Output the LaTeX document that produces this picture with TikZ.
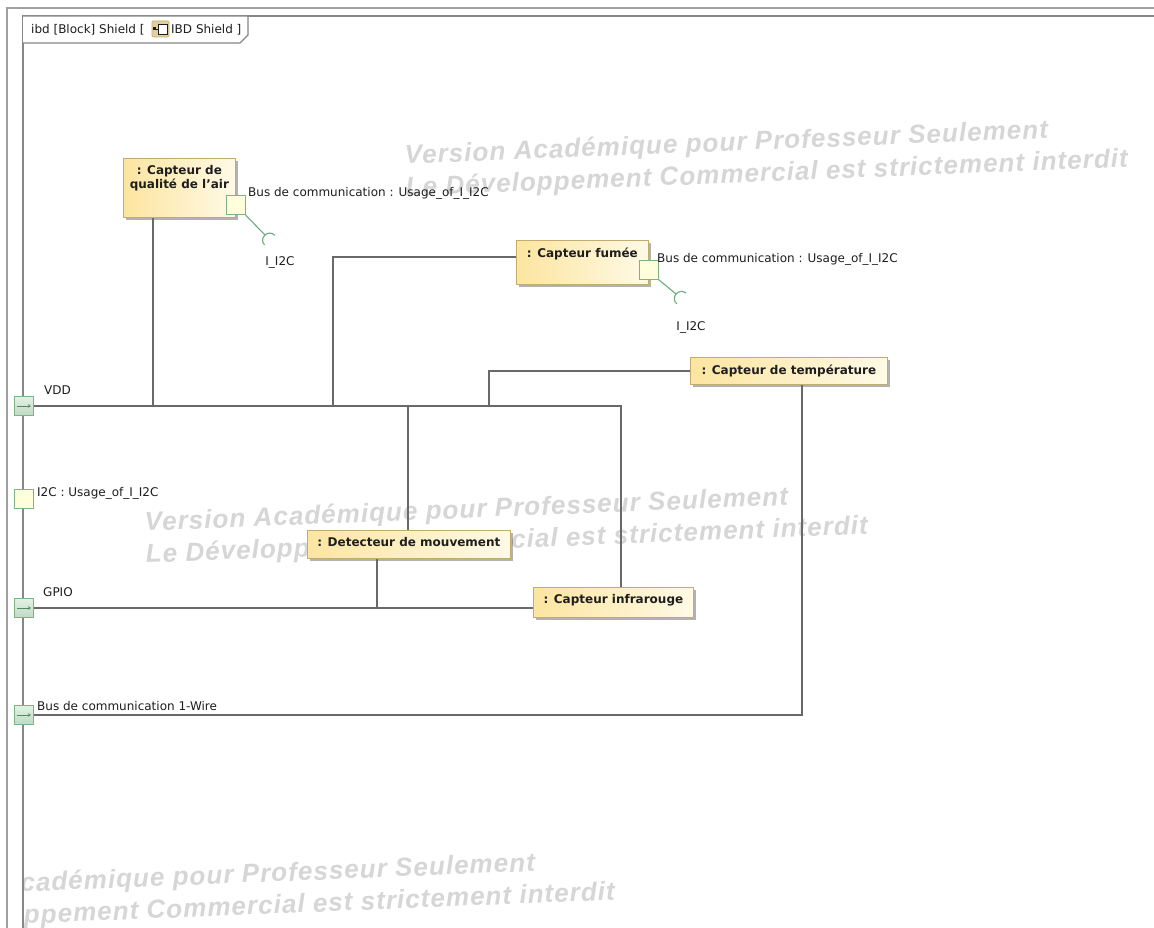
\documentclass[tikz,border=0pt]{standalone}
\usepackage{fontspec}
\setmainfont{DejaVu Sans}
\newfontfamily\wmfont{Liberation Sans}[LetterSpace=4]
\usetikzlibrary{calc,shadows,arrows.meta}

\definecolor{frameA}{RGB}{160,160,160}
\definecolor{frameB}{RGB}{135,135,135}
\definecolor{ink}{RGB}{30,30,30}
\definecolor{blockA}{RGB}{252,229,160}
\definecolor{blockB}{RGB}{255,250,230}
\definecolor{blockEdge}{RGB}{196,172,110}
\definecolor{portEdge}{RGB}{125,178,135}
\definecolor{portTop}{RGB}{228,241,228}
\definecolor{portBot}{RGB}{192,217,196}
\definecolor{portArrow}{RGB}{80,140,95}
\definecolor{ifaceFill}{RGB}{255,255,220}
\definecolor{connGray}{RGB}{105,105,105}
\definecolor{sockGreen}{RGB}{110,170,125}
\definecolor{wmGray}{RGB}{214,214,214}
\definecolor{iconTan}{RGB}{224,208,160}

\begin{document}
\begin{tikzpicture}[x=1pt,y=-1pt,
  lbl/.style={inner sep=0pt, text=ink, font=\fontsize{12}{14}\selectfont},
  wm/.style={anchor=base west, rotate=2.3, inner sep=0pt, text=wmGray,
    font=\wmfont\bfseries\itshape\fontsize{26}{30}\selectfont},
  block/.style={anchor=north west, inner sep=0pt, draw=blockEdge, line width=0.8pt,
    left color=blockA, right color=blockB,
    drop shadow={shadow xshift=3pt, shadow yshift=-3pt, fill=black, opacity=0.3}},
  blabel/.style={anchor=north, yshift=-4pt, text=ink, align=center,
    font=\bfseries\fontsize{12}{14}\selectfont},
  port/.style={minimum size=19pt, inner sep=0pt, draw=portEdge, line width=0.8pt,
    top color=portTop, bottom color=portBot},
  iport/.style={minimum size=19pt, inner sep=0pt, draw=portEdge, line width=0.8pt,
    fill=ifaceFill},
  parrow/.style={draw=portArrow, line width=0.6pt, -{Stealth[length=3pt,width=3.5pt]}},
  conn/.style={draw=connGray, line width=1.2pt},
  iface/.style={draw=sockGreen, line width=1.1pt},
  frameline/.style={draw=frameA, line width=1.2pt}
]
\useasboundingbox (0,0) rectangle (1154,928);
\fill[white] (0,0) rectangle (1154,928);

% watermark text, kept inside the diagram frame
\begin{scope}
  \clip (23,16) rectangle (1154,928);
  \node[wm] (wmA1) at (405,164) {Version Académique pour Professeur Seulement};
  \node[wm] (wmA2) at (406,196) {Le Développement Commercial est strictement interdit};
  \node[wm] (wmB1) at (145,531) {Version Académique pour Professeur Seulement};
  \node[wm] (wmB2) at (146,563) {Le Développement Commercial est strictement interdit};
  \node[wm] (wmC1) at (-108,897) {Version Académique pour Professeur Seulement};
  \node[wm] (wmC2) at (-107,929) {Le Développement Commercial est strictement interdit};
\end{scope}

% outer and inner diagram frame
\draw[frameline] (1154,8) -- (7,8) -- (7,928);
\draw[frameline, draw=frameB] (1154,16) -- (23,16) -- (23,928);
\draw[frameline, draw=frameB, fill=white] (23,16) -- (248,16) -- (248,35) -- (240,43) -- (23,43);

% frame title with the diagram icon
\node[lbl, anchor=west] (title) at (31,29.5) {ibd [Block] Shield [};
\draw[draw=blockEdge, fill=iconTan, line width=0.6pt, rounded corners=1pt] (152,21) rectangle (169,37);
\draw[draw=ink, fill=white, line width=0.8pt] (158,24) rectangle (167,34);
\draw[draw=ink, line width=0.8pt] (154,29) -- (158,29);
\fill[ink] (153,27.5) rectangle (156,30.5);
\node[lbl, anchor=west] (title2) at (171,29.5) {IBD Shield ]};

% parts
\node[block, minimum width=112pt, minimum height=59pt,
  label={[blabel]north:{: Capteur de\\qualité de l'air}}] (air) at (123,158) {};
\node[block, minimum width=132pt, minimum height=44pt,
  label={[blabel]north:{: Capteur fumée}}] (fum) at (516,240) {};
\node[block, minimum width=197pt, minimum height=27pt,
  label={[blabel]north:{: Capteur de température}}] (temp) at (690,357) {};
\node[block, minimum width=203pt, minimum height=28pt,
  label={[blabel]north:{: Detecteur de mouvement}}] (det) at (307,530) {};
\node[block, minimum width=160pt, minimum height=30pt,
  label={[blabel]north:{: Capteur infrarouge}}] (ir) at (533,587) {};

% connectors from the boundary ports
\node[port] (vdd) at (24,406) {};
\node[iport] (i2c) at (24,499) {};
\node[port] (gpio) at (24,608) {};
\node[port] (ow) at (24,715) {};

\coordinate (fumIn) at ($(fum.north west)+(0,17)$);
\coordinate (tempIn) at (temp.west);

\draw[conn] (vdd.east) -| ($(air.south west)+(30,0)$);
\draw[conn] (vdd.east) -| ([xshift=-183pt]fumIn) -- (fumIn);
\draw[conn] (vdd.east) -| ($(det.north west)+(101,0)$);
\draw[conn] (vdd.east) -| ([xshift=-201pt]tempIn) -- (tempIn);
\draw[conn] (vdd.east) -| ($(ir.north west)+(88,0)$);
\draw[conn] (gpio.east) -| ($(det.south west)+(70,0)$);
\draw[conn] (gpio.east) -- (gpio.east -| ir.west);
\draw[conn] (ow.east) -| ($(temp.south west)+(112,0)$);

% redraw boundary ports over the line ends
\node[port] at (vdd) {};
\node[port] at (gpio) {};
\node[port] at (ow) {};
\draw[parrow] ([xshift=-7pt]vdd.center) -- ([xshift=7pt]vdd.center);
\draw[parrow] ([xshift=-7pt]gpio.center) -- ([xshift=7pt]gpio.center);
\draw[parrow] ([xshift=-7pt]ow.center) -- ([xshift=7pt]ow.center);

\node[lbl, anchor=west] (vddL) at (44,390) {VDD};
\node[lbl, anchor=west] (i2cL) at (37,493) {I2C : Usage\_of\_I\_I2C};
\node[lbl, anchor=west] (gpioL) at (43,592) {GPIO};
\node[lbl, anchor=west] (owL) at (37,706) {Bus de communication 1-Wire};

% I2C ports on the sensors with their required interfaces
\node[iport] (airp) at ($(air.south east)+(0,-12.5)$) {};
\node[iport] (fump) at ($(fum.south east)+(0,-15)$) {};
\node[lbl, anchor=west] (airpL) at (248,193) {Bus de communication : Usage\_of\_I\_I2C};
\node[lbl, anchor=west] (fumpL) at (657,259) {Bus de communication : Usage\_of\_I\_I2C};

\coordinate (sockA) at (265,235);
\coordinate (sockB) at (676,294);
\draw[iface] (airp.south east) -- (sockA);
\draw[iface] (264.5,244.9) .. controls (258.2,238.0) and (268.6,228.6) .. (274.9,235.5);
\draw[iface] (fump.south east) -- (sockB);
\draw[iface] (676.9,303.9) .. controls (669.8,297.9) and (678.8,287.1) .. (685.9,293.1);

\node[lbl] (ifA) at (280,262) {I\_I2C};
\node[lbl] (ifB) at (691,327) {I\_I2C};
\end{tikzpicture}
\end{document}
